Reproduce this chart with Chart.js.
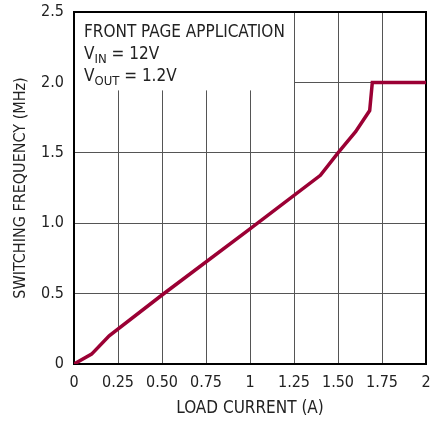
<!DOCTYPE html>
<html>
<head>
<meta charset="utf-8">
<script src="https://cdn.jsdelivr.net/npm/chart.js@4"></script>
<style>
  html, body { margin: 0; padding: 0; background: #fff; }
  #wrap { width: 445px; height: 421px; }
</style>
</head>
<body>
<div id="wrap"><canvas id="freq"></canvas></div>
<script>
  // load current (A) vs switching frequency (MHz)
  const loadCurrent = [0, 0.1, 0.2, 0.5, 1.0, 1.4, 1.5, 1.6, 1.68, 1.695, 2.0];
  const switchFreq = [0, 0.07, 0.2, 0.49, 0.96, 1.34, 1.5, 1.65, 1.8, 2.0, 2.0];
  const xTickLabels = ["0", "0.25", "0.50", "0.75", "1", "1.25", "1.50", "1.75", "2"];
  const yTickLabels = ["0", "0.5", "1.0", "1.5", "2.0", "2.5"];

  const FONT = "'DejaVu Sans Condensed', 'Liberation Sans Narrow', sans-serif";
  const INK = "#222";

  // white box with the operating conditions, drawn over the grid
  const notePlugin = {
    id: "note",
    beforeDatasetsDraw(chart) {
      const { ctx, chartArea: a } = chart;
      const x = chart.scales.x, y = chart.scales.y;
      ctx.save();
      ctx.fillStyle = "#fff";
      ctx.fillRect(a.left + 1, a.top + 1, x.getPixelForValue(1.25) - a.left - 1, y.getPixelForValue(2.0) + 7 - a.top);
      ctx.fillStyle = INK;
      ctx.textBaseline = "alphabetic";
      const big = "17px " + FONT, small = "13px " + FONT;
      const tx = a.left + 10;
      ctx.font = big;
      ctx.fillText("FRONT PAGE APPLICATION", tx, a.top + 25);
      let w;
      ctx.fillText("V", tx, a.top + 47);
      w = ctx.measureText("V").width;
      ctx.font = small;
      ctx.fillText("IN", tx + w, a.top + 51);
      w += ctx.measureText("IN").width;
      ctx.font = big;
      ctx.fillText(" = 12V", tx + w, a.top + 47);
      ctx.fillText("V", tx, a.top + 69);
      w = ctx.measureText("V").width;
      ctx.font = small;
      ctx.fillText("OUT", tx + w, a.top + 73);
      w += ctx.measureText("OUT").width;
      ctx.font = big;
      ctx.fillText(" = 1.2V", tx + w, a.top + 69);
      // frame
      ctx.strokeStyle = "#000";
      ctx.lineWidth = 2;
      ctx.strokeRect(a.left, a.top, a.right - a.left, a.bottom - a.top);
      ctx.restore();
    }
  };

  const points = loadCurrent.map((v, i) => ({ x: v, y: switchFreq[i] }));

  new Chart(document.getElementById("freq"), {
    type: "line",
    data: {
      datasets: [{
        data: points,
        borderColor: "#9b0034",
        borderWidth: 3.5,
        pointRadius: 0,
        tension: 0,
        fill: false
      }]
    },
    options: {
      responsive: true,
      maintainAspectRatio: false,
      animation: false,
      layout: { padding: { left: 0, right: 19, top: 12, bottom: 0 } },
      plugins: { legend: { display: false }, tooltip: { enabled: false } },
      scales: {
        x: {
          type: "linear",
          min: 0,
          max: 2,
          afterFit(s) { s.height = 57; s.paddingLeft = 0; s.paddingRight = 0; },
          ticks: {
            stepSize: 0.25,
            color: INK,
            font: { family: FONT, size: 16 },
            padding: 9,
            maxRotation: 0,
            callback: (v) => xTickLabels[Math.round(v / 0.25)]
          },
          grid: { color: "#555", lineWidth: 1, drawTicks: false },
          border: { color: "#000", width: 2 },
          title: {
            display: true,
            text: "LOAD CURRENT (A)",
            color: INK,
            font: { family: FONT, size: 17 },
            padding: { top: 0, bottom: 2 }
          }
        },
        y: {
          min: 0,
          max: 2.5,
          afterFit(s) { s.width = 74; s.paddingTop = 0; s.paddingBottom = 0; },
          ticks: {
            stepSize: 0.5,
            color: INK,
            font: { family: FONT, size: 16 },
            padding: 10,
            callback: (v) => yTickLabels[Math.round(v / 0.5)]
          },
          grid: { color: "#555", lineWidth: 1, drawTicks: false },
          border: { color: "#000", width: 2 },
          title: {
            display: true,
            text: "SWITCHING FREQUENCY (MHz)",
            color: INK,
            font: { family: FONT, size: 16 },
            padding: { top: 11, bottom: 0 }
          }
        }
      }
    },
    plugins: [notePlugin]
  });
</script>
</body>
</html>
